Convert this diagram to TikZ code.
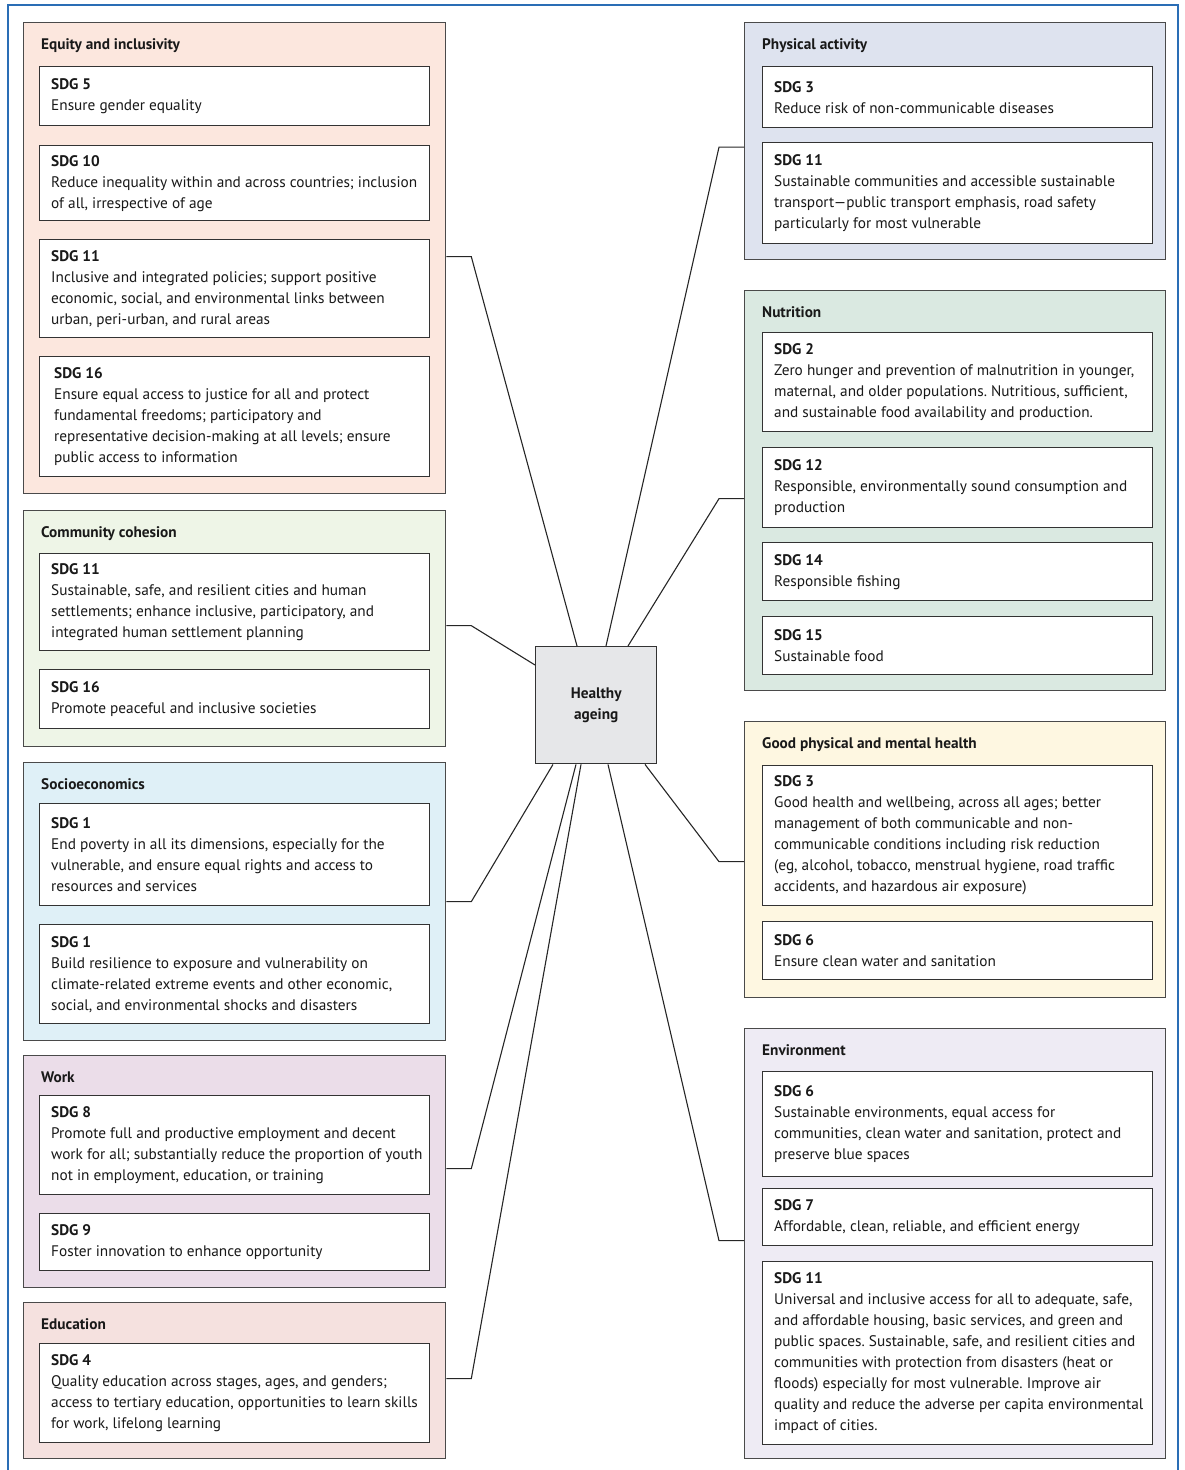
\documentclass[tikz,border=0pt]{standalone}
\usepackage{fontspec}
\setmainfont{PT Sans}
\usetikzlibrary{calc}
\definecolor{frameblue}{HTML}{2A6DB5}
\definecolor{gline}{HTML}{4A4A4A}
\definecolor{sline}{HTML}{333333}
\definecolor{cEq}{HTML}{FCE7DE}
\definecolor{cCo}{HTML}{EEF5E7}
\definecolor{cSe}{HTML}{DFF0F7}
\definecolor{cWo}{HTML}{EBDDE9}
\definecolor{cEd}{HTML}{F5E1DF}
\definecolor{cPa}{HTML}{DEE3EF}
\definecolor{cNu}{HTML}{DAE9E1}
\definecolor{cGh}{HTML}{FEF7E1}
\definecolor{cEn}{HTML}{EEEBF4}
\definecolor{cHa}{HTML}{E6E7E9}
\newcommand\myfs{\fontsize{15.3}{21}\selectfont\frenchspacing}
\newcommand\sdgnode[6]{%
  \node[sdg, minimum height=#4] (#1) at (#2,#3) {};
  \node[txt] (#1t) at ($(#1.west)+(#5,0)$) {#6};}
\begin{document}
\begin{tikzpicture}[x=1pt,y=-1pt,
  grp/.style={draw=gline, line width=1.3pt, anchor=north west, inner sep=0pt, minimum width=#1},
  sdg/.style={draw=sline, fill=white, line width=1.4pt, anchor=north west, inner sep=0pt, minimum width=390},
  txt/.style={anchor=west, align=left, inner sep=0pt, font=\myfs, text=black!90},
  ttl/.style={anchor=base west, inner sep=0pt, font=\myfs\bfseries, text=black!90},
  conn/.style={draw=black!85, line width=1.1pt}]
\useasboundingbox (0,0) rectangle (1184,1470);
% frame
\draw[frameblue, line width=1.2pt] (8,1470) -- (8,5) -- (1178,5) -- (1178,1470);

% ---------- left groups ----------
\node[grp=422, fill=cEq, minimum height=471] (eq) at (23,22) {};
\node[ttl] (eqt) at ($(eq.north west)+(18,27)$) {Equity and inclusivity};
\sdgnode{eq1}{39}{66}{59}{12}{\textbf{SDG 5}\\Ensure gender equality}
\sdgnode{eq2}{39}{145}{75}{12}{\textbf{SDG 10}\\Reduce inequality within and across countries; inclusion\\of all, irrespective of age}
\sdgnode{eq3}{39}{239}{98}{12}{\textbf{SDG 11}\\Inclusive and integrated policies; support positive\\economic, social, and environmental links between\\urban, peri-urban, and rural areas}
\sdgnode{eq4}{39}{356}{120}{15}{\textbf{SDG 16}\\Ensure equal access to justice for all and protect\\fundamental freedoms; participatory and\\representative decision-making at all levels; ensure\\public access to information}

\node[grp=422, fill=cCo, minimum height=236] (cc) at (23,510) {};
\node[ttl] (cct) at ($(cc.north west)+(18,27)$) {Community cohesion};
\sdgnode{cc1}{39}{553}{97}{12}{\textbf{SDG 11}\\Sustainable, safe, and resilient cities and human\\settlements; enhance inclusive, participatory, and\\integrated human settlement planning}
\sdgnode{cc2}{39}{669}{59}{12}{\textbf{SDG 16}\\Promote peaceful and inclusive societies}

\node[grp=422, fill=cSe, minimum height=278] (se) at (23,762) {};
\node[ttl] (set) at ($(se.north west)+(18,27)$) {Socioeconomics};
\sdgnode{se1}{39}{803}{102}{12}{\textbf{SDG 1}\\End poverty in all its dimensions, especially for the\\vulnerable, and ensure equal rights and access to\\resources and services}
\sdgnode{se2}{39}{924}{99}{12}{\textbf{SDG 1}\\Build resilience to exposure and vulnerability on\\climate-related extreme events and other economic,\\social, and environmental shocks and disasters}

\node[grp=422, fill=cWo, minimum height=232] (wk) at (23,1055) {};
\node[ttl] (wkt) at ($(wk.north west)+(18,27)$) {Work};
\sdgnode{wk1}{39}{1095}{99}{12}{\textbf{SDG 8}\\Promote full and productive employment and decent\\work for all; substantially reduce the proportion of youth\\not in employment, education, or training}
\sdgnode{wk2}{39}{1213}{57}{12}{\textbf{SDG 9}\\Foster innovation to enhance opportunity}

\node[grp=422, fill=cEd, minimum height=156] (ed) at (23,1302) {};
\node[ttl] (edt) at ($(ed.north west)+(18,27)$) {Education};
\sdgnode{ed1}{39}{1343}{99}{12}{\textbf{SDG 4}\\Quality education across stages, ages, and genders;\\access to tertiary education, opportunities to learn skills\\for work, lifelong learning}

% ---------- right groups ----------
\node[grp=421, fill=cPa, minimum height=237] (pa) at (744,22) {};
\node[ttl] (pat) at ($(pa.north west)+(18,27)$) {Physical activity};
\sdgnode{pa1}{762}{66}{61}{12}{\textbf{SDG 3}\\Reduce risk of non-communicable diseases}
\sdgnode{pa2}{762}{142}{101}{12}{\textbf{SDG 11}\\Sustainable communities and accessible sustainable\\transport—public transport emphasis, road safety\\particularly for most vulnerable}

\node[grp=421, fill=cNu, minimum height=400] (nu) at (744,290) {};
\node[ttl] (nut) at ($(nu.north west)+(18,27)$) {Nutrition};
\sdgnode{nu1}{762}{332}{99}{12}{\textbf{SDG 2}\\Zero hunger and prevention of malnutrition in younger,\\maternal, and older populations. Nutritious, sufficient,\\and sustainable food availability and production.}
\sdgnode{nu2}{762}{447}{80}{12}{\textbf{SDG 12}\\Responsible, environmentally sound consumption and\\production}
\sdgnode{nu3}{762}{542}{58}{12}{\textbf{SDG 14}\\Responsible fishing}
\sdgnode{nu4}{762}{616}{58}{12}{\textbf{SDG 15}\\Sustainable food}

\node[grp=421, fill=cGh, minimum height=276] (gh) at (744,721) {};
\node[ttl] (ght) at ($(gh.north west)+(18,27)$) {Good physical and mental health};
\sdgnode{gh1}{762}{765}{140}{12}{\textbf{SDG 3}\\Good health and wellbeing, across all ages; better\\management of both communicable and non-\\communicable conditions including risk reduction\\(eg, alcohol, tobacco, menstrual hygiene, road traffic\\accidents, and hazardous air exposure)}
\sdgnode{gh2}{762}{921}{58}{12}{\textbf{SDG 6}\\Ensure clean water and sanitation}

\node[grp=421, fill=cEn, minimum height=430] (en) at (744,1028) {};
\node[ttl] (ent) at ($(en.north west)+(18,27)$) {Environment};
\sdgnode{en1}{762}{1071}{105}{12}{\textbf{SDG 6}\\Sustainable environments, equal access for\\communities, clean water and sanitation, protect and\\preserve blue spaces}
\sdgnode{en2}{762}{1188}{57}{12}{\textbf{SDG 7}\\Affordable, clean, reliable, and efficient energy}
\sdgnode{en3}{762}{1261}{183}{12}{\textbf{SDG 11}\\Universal and inclusive access for all to adequate, safe,\\and affordable housing, basic services, and green and\\public spaces. Sustainable, safe, and resilient cities and\\communities with protection from disasters (heat or\\floods) especially for most vulnerable. Improve air\\quality and reduce the adverse per capita environmental\\impact of cities.}

% ---------- centre ----------
\node[draw=sline, fill=cHa, line width=1.4pt, anchor=north west, minimum width=121, minimum height=117, inner sep=0pt, align=center, font=\myfs\bfseries, text=black!90] (ha) at (535,646) {Healthy\\ageing};

% ---------- connectors ----------
\draw[conn] ($(eq.east)+(0,-1.5)$) -- ++(25,0) -- ($(ha.north west)+(42,0)$);
\draw[conn] ($(cc.east)+(0,-3)$) -- ++(25,0) -- ($(ha.north west)+(0,19)$);
\draw[conn] (se.east) -- ++(25,0) -- ($(ha.south west)+(18,0)$);
\draw[conn] ($(wk.east)+(0,-3)$) -- ++(25,0) -- ($(ha.south west)+(41,0)$);
\draw[conn] ($(ed.east)+(0,-2)$) -- ++(25,0) -- ($(ha.south west)+(46,0)$);
\draw[conn] ($(pa.west)+(0,6)$) -- ++(-25,0) -- ($(ha.north west)+(71,0)$);
\draw[conn] ($(nu.west)+(0,8)$) -- ++(-25,0) -- ($(ha.north west)+(93,0)$);
\draw[conn] ($(gh.west)+(0,2)$) -- ++(-25,0) -- ($(ha.south west)+(110,0)$);
\draw[conn] ($(en.west)+(0,-3)$) -- ++(-25,0) -- ($(ha.south west)+(73,0)$);
\end{tikzpicture}
\end{document}
